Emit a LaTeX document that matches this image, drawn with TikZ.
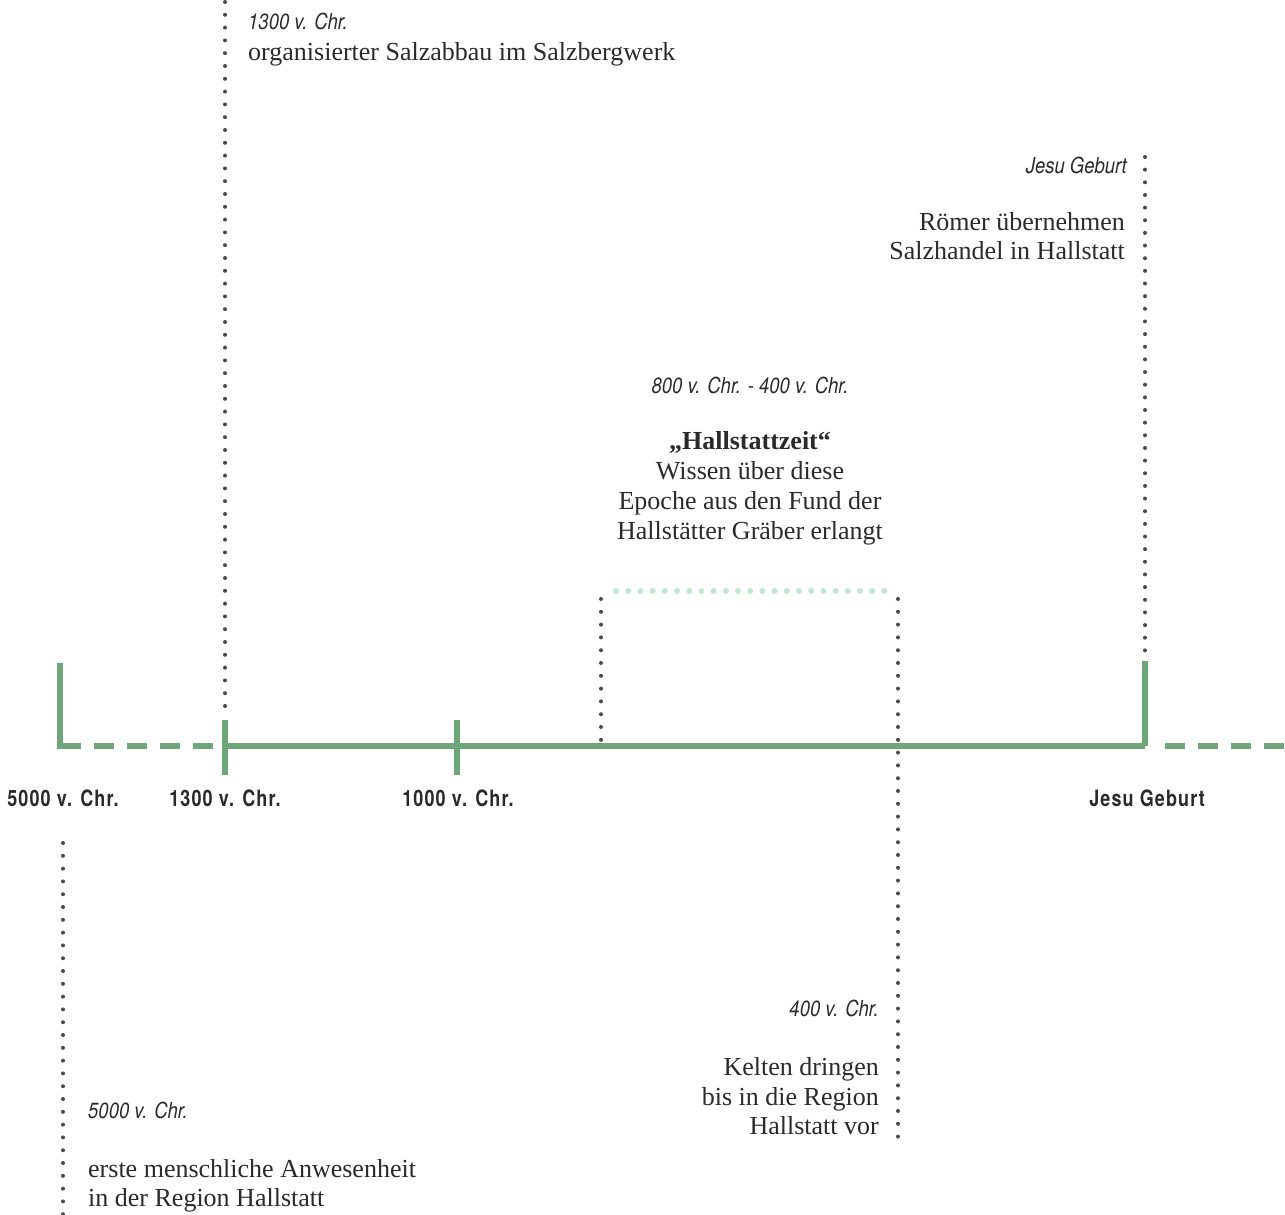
\documentclass[tikz,border=0pt]{standalone}
\usepackage{fontspec}
\setmainfont{Liberation Serif}
\newfontfamily\labfont[FakeStretch=0.8,LetterSpace=5]{TeX Gyre Heros}
\newfontfamily\datefont[FakeStretch=0.84]{TeX Gyre Heros}
\definecolor{tlgreen}{HTML}{6FA77A}
\definecolor{lightdot}{HTML}{C3E6CE}
\definecolor{darkdot}{HTML}{4A4A4A}
\definecolor{txt}{HTML}{2A2A2A}
\tikzset{
  axis/.style={draw=tlgreen,line width=6.5pt},
  axisdash/.style={draw=tlgreen,line width=6.5pt,dash pattern=on 20pt off 13pt},
  dotline/.style={draw=darkdot,line width=4pt,line cap=round,dash pattern=on 0pt off 12.8pt},
  greendots/.style={draw=lightdot,line width=6pt,line cap=round,dash pattern=on 0pt off 12.2pt},
  body/.style={text=txt,inner sep=0pt,font=\fontsize{26}{30}\selectfont},
  bodyb/.style={text=txt,inner sep=0pt,font=\fontsize{26}{30}\selectfont\bfseries},
  datei/.style={text=txt,inner sep=0pt,font=\fontsize{22}{26}\selectfont\datefont\itshape},
  ticklab/.style={text=txt,inner sep=0pt,font=\fontsize{22.5}{26}\selectfont\labfont\bfseries},
}
\begin{document}
\begin{tikzpicture}[x=1pt,y=-1pt]
\useasboundingbox (0,0) rectangle (1285,1215);
% timeline coordinates
\coordinate (a5top) at (60,663);
\coordinate (a5) at (60,746);
\coordinate (a5d) at (81,746);
\coordinate (a13) at (225,746);
\coordinate (a13t) at (225,720);
\coordinate (a13b) at (225,775);
\coordinate (a10t) at (457,720);
\coordinate (a10b) at (457,775);
\coordinate (aj) at (1145,746);
\coordinate (ajtop) at (1145,661);
\coordinate (ajd) at (1165,746);
\coordinate (aend) at (1290,746);
% main axis
\draw[axis,line join=miter,line cap=butt] (a5top) -- (a5) -- (a5d);
\draw[axisdash] (94,746) -- (a13);
\draw[axis] (a13) -- (aj);
\draw[axis] (ajtop) -- (aj);
\draw[axisdash] (ajd) -- (aend);
\draw[axis] (a13t) -- (a13b);
\draw[axis] (a10t) -- (a10b);
% dotted guide lines
\coordinate (d13a) at (225,2);
\coordinate (d13b) at (225,712);
\coordinate (dja) at (1145,157);
\coordinate (djb) at (1145,651);
\coordinate (dla) at (601,599);
\coordinate (dlb) at (601,741);
\coordinate (dra) at (898,599);
\coordinate (drb) at (898,1137);
\coordinate (d5a) at (63,843);
\coordinate (d5b) at (63,1216);
\coordinate (ga) at (616,591);
\coordinate (gb) at (885,591);
\draw[dotline] (d13a) -- (d13b);
\draw[dotline,dash pattern=on 0pt off 12.65pt] (dja) -- (djb);
\draw[dotline] (dla) -- (dlb);
\draw[dotline] (dra) -- (drb);
\draw[dotline] (d5a) -- (d5b);
\draw[greendots] (ga) -- (gb);
% tick labels
\node[ticklab,anchor=base] (l5000) at (63,806) {5000 v. Chr.};
\node[ticklab,anchor=base] (l1300) at (225,806) {1300 v. Chr.};
\node[ticklab,anchor=base] (l1000) at (458,806) {1000 v. Chr.};
\node[ticklab,anchor=base] (ljesu) at (1147,806) {Jesu Geburt};
% 1300
\node[datei,anchor=base west] (t13d) at (248,30) {1300 v. Chr.};
\node[body,anchor=base west] (t13a) at (248,60) {organisierter Salzabbau im Salzbergwerk};
% Jesu
\node[datei,anchor=base east] (tjd) at (1127,173) {Jesu Geburt};
\node[body,anchor=base east] (tja) at (1125,230) {Römer übernehmen};
\node[body,anchor=base east] (tjb) at (1125,259) {Salzhandel in Hallstatt};
% Hallstattzeit
\node[datei,anchor=base] (thd) at (750,393) {800 v. Chr. - 400 v. Chr.};
\node[bodyb,anchor=base] (tha) at (750,449) {„Hallstattzeit“};
\node[body,anchor=base] (thb) at (750,479) {Wissen über diese};
\node[body,anchor=base] (thc) at (750,509) {Epoche aus den Fund der};
\node[body,anchor=base] (the) at (750,539) {Hallstätter Gräber erlangt};
% 400
\node[datei,anchor=base east] (t4d) at (879,1016) {400 v. Chr.};
\node[body,anchor=base east] (t4a) at (879,1075) {Kelten dringen};
\node[body,anchor=base east] (t4b) at (879,1105) {bis in die Region};
\node[body,anchor=base east] (t4c) at (879,1134) {Hallstatt vor};
% 5000
\node[datei,anchor=base west] (t5d) at (88,1118) {5000 v. Chr.};
\node[body,anchor=base west] (t5a) at (88,1177) {erste menschliche Anwesenheit};
\node[body,anchor=base west] (t5b) at (88,1206) {in der Region Hallstatt};
\end{tikzpicture}
\end{document}
